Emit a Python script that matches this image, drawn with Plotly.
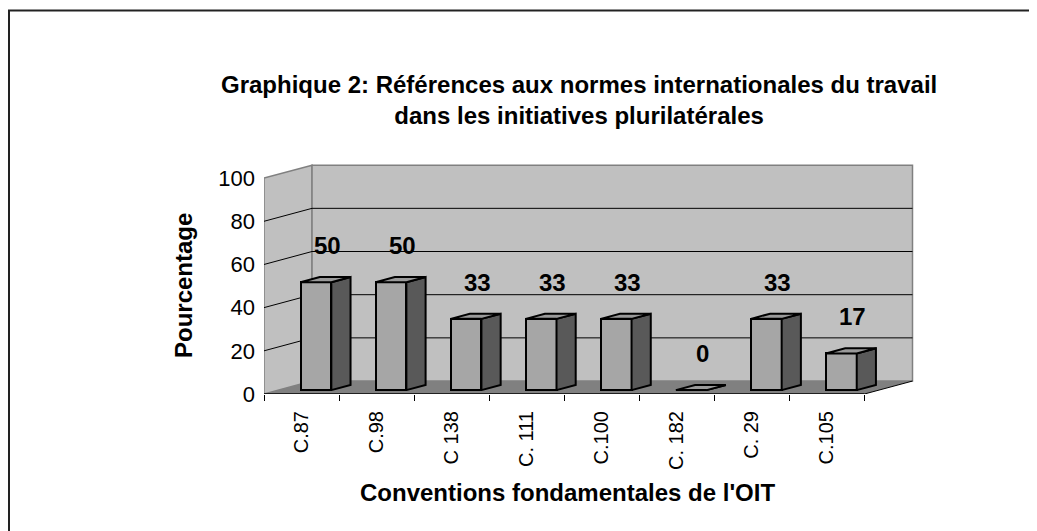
import plotly.graph_objects as go

# ---- data ----
categories = ["C.87", "C.98", "C 138", "C. 111", "C.100", "C. 182", "C. 29", "C.105"]
values = [50, 50, 33, 33, 33, 0, 33, 17]
y_ticks = [0, 20, 40, 60, 80, 100]

title_text = "Graphique 2: Références aux normes internationales du travail<br>dans les initiatives plurilatérales"
y_title = "Pourcentage"
x_title = "Conventions fondamentales de l'OIT"

# ---- pseudo-3D geometry (in axis units) ----
DX, DY = 0.64, 6.0        # full depth offset of the floor / walls
F0, DEPTH = 0.30, 0.40    # bar front depth fraction and bar depth fraction
BW = 0.41                 # bar front width
n = len(categories)

FONT = "Arial, Liberation Sans, sans-serif"
OFF = 8                   # browser body margin
W, H = 1037 - OFF, 531 - OFF
L, T = 264 - OFF, 163 - OFF
B = H - (394 - OFF)
R = W - (917 - OFF)
PW, PH = W - L - R, H - T - B
XMAX, YMAX = 8.7, 107

def px_to_paper_x(px):
    return (px - OFF - L) / PW

def px_to_paper_y(py):
    return (H - B - (py - OFF)) / PH

fig = go.Figure()

# front faces: real bars
centers = [i + 0.5 + F0 * DX for i in range(n)]
fig.add_trace(go.Bar(
    x=centers, y=values, base=[F0 * DY] * n, width=BW,
    marker=dict(color="#a6a6a6", line=dict(color="black", width=2)),
    hoverinfo="skip", showlegend=False,
))

# side and top faces derived from the same values
sx, sy, tx, ty = [], [], [], []
for c, v in zip(centers, values):
    x0, x1 = c - BW / 2, c + BW / 2
    b = F0 * DY
    top = v + b
    ddx, ddy = DEPTH * DX, DEPTH * DY
    sx += [x1, x1 + ddx, x1 + ddx, x1, x1, None]
    sy += [b, b + ddy, top + ddy, top, b, None]
    tx += [x0, x1, x1 + ddx, x0 + ddx, x0, None]
    ty += [top, top, top + ddy, top + ddy, top, None]

fig.add_trace(go.Scatter(x=sx, y=sy, mode="lines", fill="toself", fillcolor="#595959",
                         line=dict(color="black", width=2), hoverinfo="skip", showlegend=False))
fig.add_trace(go.Scatter(x=tx, y=ty, mode="lines", fill="toself", fillcolor="#9a9a9a",
                         line=dict(color="black", width=2), hoverinfo="skip", showlegend=False))

# ---- walls, floor, gridlines ----
shapes = []
ymax_v = y_ticks[-1]
shapes.append(dict(type="path", layer="below", xref="x", yref="y",
                   path=f"M 0 0 L {DX} {DY} L {DX} {ymax_v + DY} L 0 {ymax_v} Z",
                   fillcolor="#c0c0c0", line=dict(color="#808080", width=1.5)))
shapes.append(dict(type="rect", layer="below", xref="x", yref="y",
                   x0=DX, x1=n + DX, y0=DY, y1=ymax_v + DY,
                   fillcolor="#c0c0c0", line=dict(color="#808080", width=1.5)))
shapes.append(dict(type="path", layer="below", xref="x", yref="y",
                   path=f"M 0 0 L {n} 0 L {n + DX} {DY} L {DX} {DY} Z",
                   fillcolor="#808080", line=dict(width=0)))
for g in y_ticks[1:-1]:
    shapes.append(dict(type="path", layer="below", xref="x", yref="y",
                       path=f"M 0 {g} L {DX} {g + DY} L {n + DX} {g + DY}",
                       line=dict(color="black", width=1)))
# floor right edge and front axis line
shapes.append(dict(type="line", layer="below", xref="x", yref="y",
                   x0=n, y0=0, x1=n + DX, y1=DY, line=dict(color="black", width=1)))
shapes.append(dict(type="line", layer="above", xref="x", yref="y",
                   x0=0, y0=0, x1=n, y1=0, line=dict(color="black", width=1.5)))
# outer chart border (only top and left edges visible in frame)
shapes.append(dict(type="rect", xref="paper", yref="paper",
                   x0=px_to_paper_x(9), x1=px_to_paper_x(1060),
                   y0=px_to_paper_y(560), y1=px_to_paper_y(10.5),
                   line=dict(color="#222222", width=2), fillcolor="rgba(0,0,0,0)"))

# ---- data labels ----
annotations = []
for i, v in enumerate(values):
    top = v + F0 * DY + DEPTH * DY
    annotations.append(dict(x=i + 0.5 + 0.34, y=top, xref="x", yref="y", text=f"<b>{v}</b>",
                            showarrow=False, xanchor="center", yanchor="bottom", yshift=16,
                            font=dict(family=FONT, size=24, color="black")))

annotations.append(dict(x=px_to_paper_x(183), y=px_to_paper_y(286), xref="paper", yref="paper",
                        text=f"<b>{y_title}</b>", textangle=-90, showarrow=False,
                        xanchor="center", yanchor="middle",
                        font=dict(family=FONT, size=24, color="black")))
annotations.append(dict(x=px_to_paper_x(567), y=px_to_paper_y(492), xref="paper", yref="paper",
                        text=f"<b>{x_title}</b>", showarrow=False,
                        xanchor="center", yanchor="middle",
                        font=dict(family=FONT, size=24, color="black")))
annotations.append(dict(x=px_to_paper_x(579), y=px_to_paper_y(100), xref="paper", yref="paper",
                        text=f"<b>{title_text}</b>", showarrow=False, align="center",
                        xanchor="center", yanchor="middle",
                        font=dict(family=FONT, size=24, color="black")))

fig.update_layout(
    width=W, height=H,
    margin=dict(l=L, r=R, t=T, b=B, pad=0),
    paper_bgcolor="white", plot_bgcolor="rgba(0,0,0,0)",
    shapes=shapes, annotations=annotations,
    showlegend=False, bargap=0,
    xaxis=dict(range=[0, XMAX], showgrid=False, zeroline=False, showline=False,
               tickmode="array", tickvals=[i + 0.5 for i in range(n)], ticktext=categories,
               tickangle=-90, ticks="", ticklabelstandoff=12,
               tickfont=dict(family=FONT, size=20, color="black"),
               minor=dict(tickmode="array", tickvals=list(range(n + 1)), ticks="outside",
                          ticklen=6, tickcolor="black", tickwidth=1, showgrid=False)),
    yaxis=dict(range=[0, YMAX], showgrid=False, zeroline=False, showline=False,
               tickmode="array", tickvals=y_ticks, ticks="", ticklabelstandoff=8,
               tickfont=dict(family=FONT, size=22, color="black")),
)

fig.write_html("out.html")
